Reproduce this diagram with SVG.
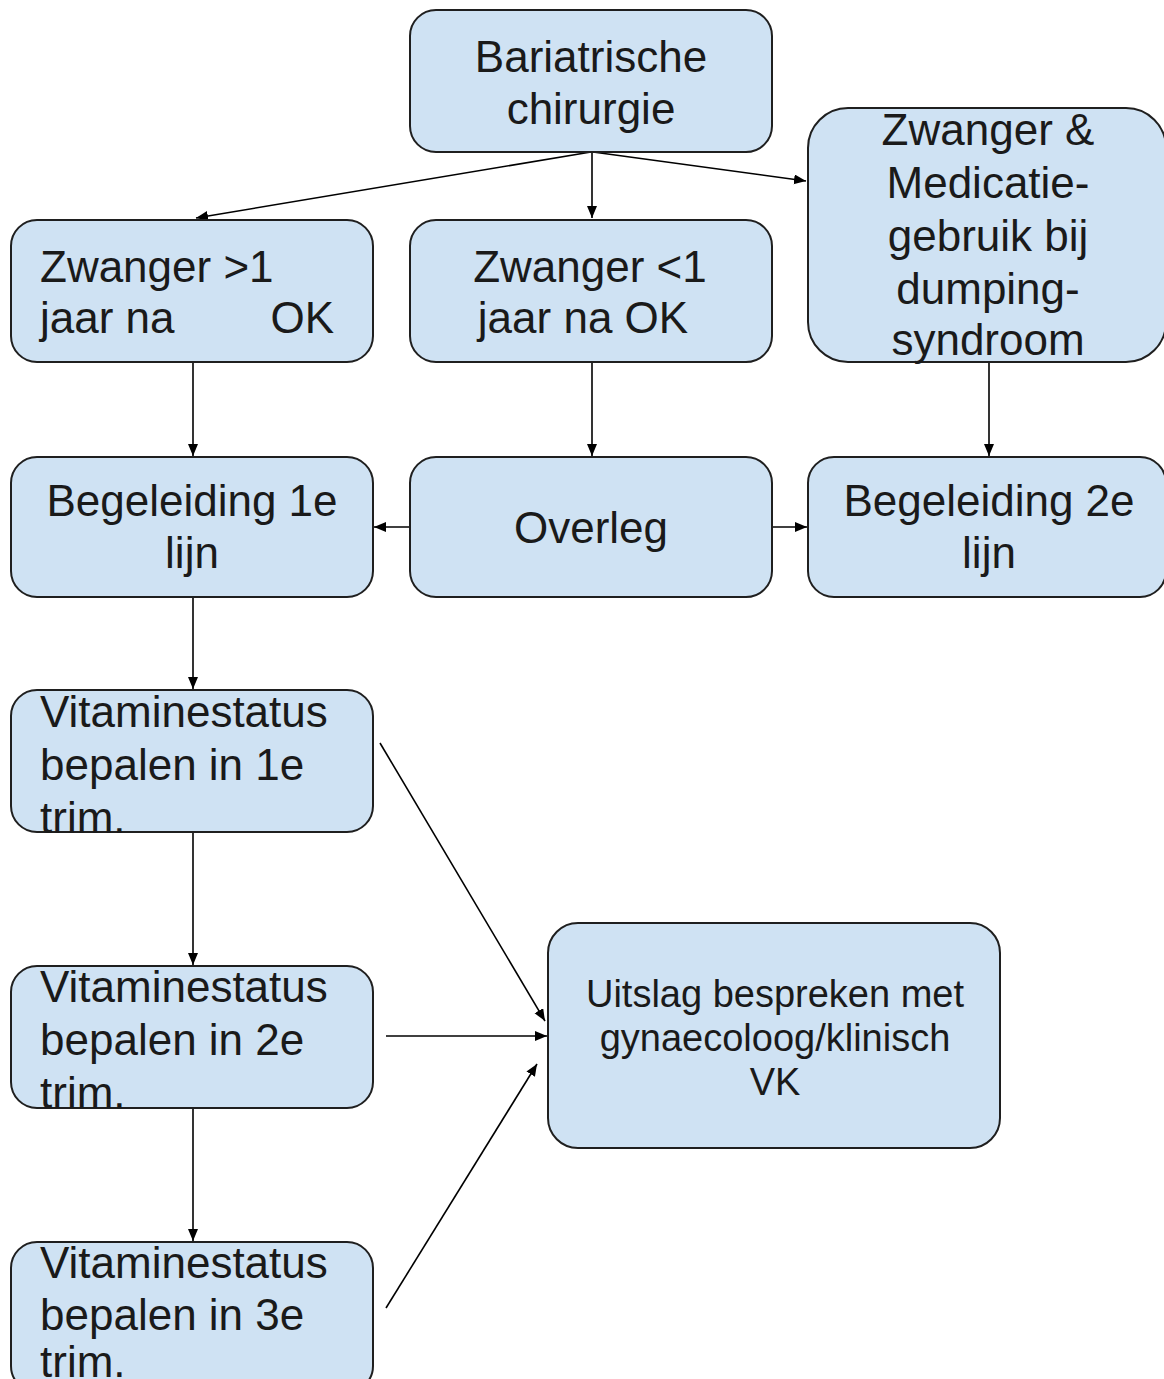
<svg xmlns="http://www.w3.org/2000/svg" width="1164" height="1379" viewBox="0 0 1164 1379">
<style>
.n{fill:#cfe2f3;stroke:#1f1f1f;stroke-width:2}
.t{font-family:"Liberation Sans",Arial,sans-serif;font-size:44px;fill:#1a1a1a}
.c{text-anchor:middle}
.s{font-size:38px}
.e{stroke:#000;stroke-width:1.6;fill:none;marker-end:url(#a)}
</style>
<defs>
<marker id="a" markerUnits="userSpaceOnUse" markerWidth="13" markerHeight="11" refX="12" refY="5" orient="auto">
<path d="M0,0 L12,5 L0,10 z" fill="#000"/>
</marker>
</defs>
<rect width="1164" height="1379" fill="#fff"/>
<g id="connectors">
<line class="e" x1="591" y1="152" x2="196" y2="218"/>
<line class="e" x1="592" y1="152" x2="592" y2="218"/>
<line class="e" x1="593" y1="152" x2="806" y2="181"/>
<line class="e" x1="193" y1="362" x2="193" y2="456"/>
<line class="e" x1="592" y1="362" x2="592" y2="456"/>
<line class="e" x1="989" y1="362" x2="989" y2="456"/>
<line class="e" x1="410" y1="527" x2="374" y2="527"/>
<line class="e" x1="772" y1="527" x2="807" y2="527"/>
<line class="e" x1="193" y1="597" x2="193" y2="689"/>
<line class="e" x1="193" y1="832" x2="193" y2="965"/>
<line class="e" x1="193" y1="1108" x2="193" y2="1241"/>
<line class="e" x1="380" y1="743" x2="545" y2="1021"/>
<line class="e" x1="386" y1="1036" x2="547" y2="1036"/>
<line class="e" x1="386" y1="1308" x2="537" y2="1064"/>
</g>
<g id="n1"><rect class="n" x="410" y="10" width="362" height="142" rx="26"/>
<text class="t c" x="591" y="72">Bariatrische</text><text class="t c" x="591" y="124">chirurgie</text></g>
<g id="n2"><rect class="n" x="11" y="220" width="362" height="142" rx="26"/>
<text class="t" x="40" y="282">Zwanger &gt;1</text><text class="t" y="333"><tspan x="40">jaar na</tspan><tspan x="334" text-anchor="end"> OK</tspan></text></g>
<g id="n3"><rect class="n" x="410" y="220" width="362" height="142" rx="26"/>
<text class="t c" x="590" y="282">Zwanger &lt;1</text><text class="t c" x="583" y="333">jaar na OK</text></g>
<g id="n4"><rect class="n" x="808" y="108" width="358" height="254" rx="40"/>
<text class="t c" x="988" y="145">Zwanger &amp;</text><text class="t c" x="988" y="198">Medicatie-</text><text class="t c" x="988" y="251">gebruik bij</text><text class="t c" x="988" y="304">dumping-</text><text class="t c" x="988" y="355">syndroom</text></g>
<g id="n5"><rect class="n" x="11" y="457" width="362" height="140" rx="26"/>
<text class="t c" x="192" y="516">Begeleiding 1e</text><text class="t c" x="192" y="568">lijn</text></g>
<g id="n6"><rect class="n" x="410" y="457" width="362" height="140" rx="26"/>
<text class="t c" x="591" y="543">Overleg</text></g>
<g id="n7"><rect class="n" x="808" y="457" width="358" height="140" rx="26"/>
<text class="t c" x="989" y="516">Begeleiding 2e</text><text class="t c" x="989" y="568">lijn</text></g>
<g id="n8"><rect class="n" x="11" y="690" width="362" height="142" rx="26"/>
<text class="t" x="40" y="727">Vitaminestatus</text><text class="t" x="40" y="780">bepalen in 1e</text><text class="t" x="40" y="833">trim.</text></g>
<g id="n9"><rect class="n" x="11" y="966" width="362" height="142" rx="26"/>
<text class="t" x="40" y="1002">Vitaminestatus</text><text class="t" x="40" y="1055">bepalen in 2e</text><text class="t" x="40" y="1108">trim.</text></g>
<g id="n10"><rect class="n" x="11" y="1242" width="362" height="150" rx="26"/>
<text class="t" x="40" y="1278">Vitaminestatus</text><text class="t" x="40" y="1330">bepalen in 3e</text><text class="t" x="40" y="1377">trim.</text></g>
<g id="n11"><rect class="n" x="548" y="923" width="452" height="225" rx="30"/>
<text class="t s c" x="775" y="1007">Uitslag bespreken met</text><text class="t s c" x="775" y="1051">gynaecoloog/klinisch</text><text class="t s c" x="775" y="1095">VK</text></g>
</svg>
